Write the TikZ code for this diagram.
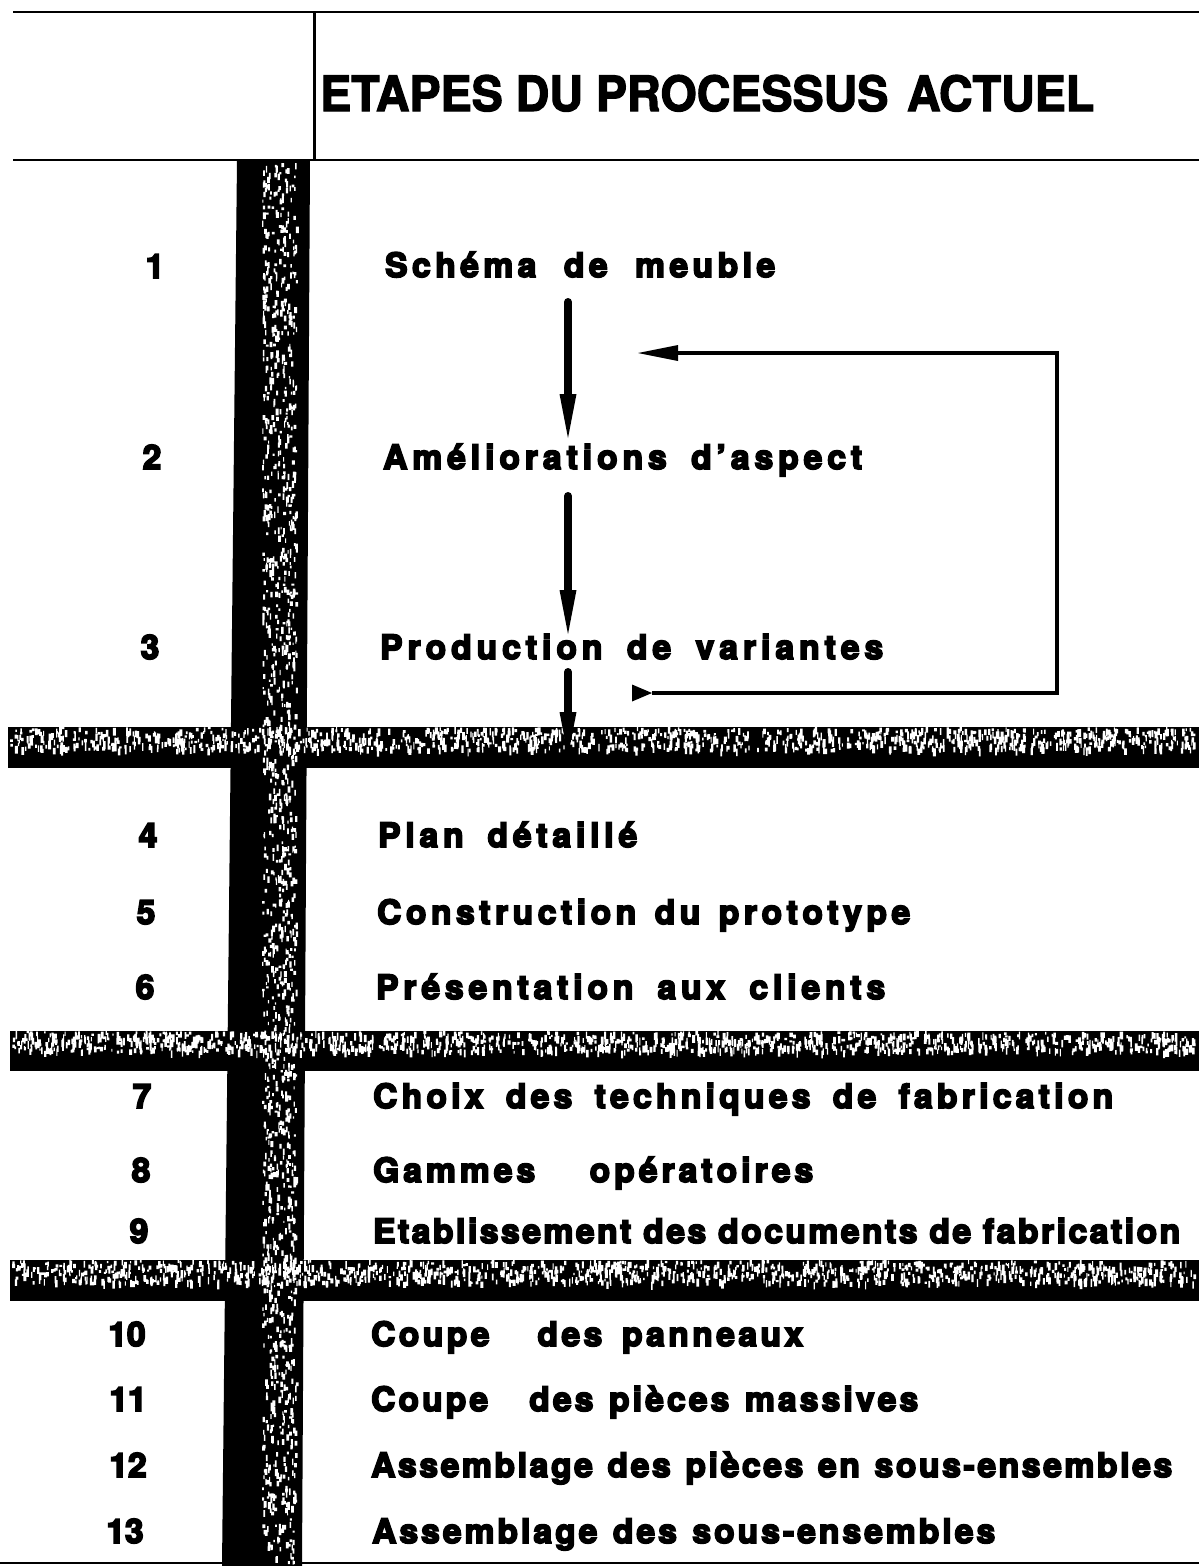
\documentclass[tikz,border=0pt]{standalone}
\usepackage{fontspec}
\setmainfont{TeX Gyre Heros}[BoldFeatures={FakeBold=5.2}]
\newfontfamily\titlefont{TeX Gyre Heros}[BoldFeatures={FakeBold=2.5}]
\usepackage{graphicx}
\usetikzlibrary{arrows.meta}

\ExplSyntaxOn
\seq_new:N \l_rs_words_seq
\seq_new:N \l_rs_chars_seq
\tl_new:N \l_rs_out_tl
\bool_new:N \l_rs_first_bool
\NewDocumentCommand \spreadtext { O{4} m m }
 {
  \seq_set_split:Nnn \l_rs_words_seq { ~ } { #3 }
  \tl_clear:N \l_rs_out_tl
  \bool_set_true:N \l_rs_first_bool
  \seq_map_inline:Nn \l_rs_words_seq
   {
    \str_if_eq:nnTF { ##1 } { / }
     { \tl_put_right:Nn \l_rs_out_tl { \hskip 0pt plus 8fil } }
     {
      \bool_if:NF \l_rs_first_bool
       { \tl_put_right:Nn \l_rs_out_tl { \hskip 0.28em plus #1 fil } }
      \bool_set_false:N \l_rs_first_bool
      \seq_clear:N \l_rs_chars_seq
      \tl_map_inline:nn { ##1 } { \seq_put_right:Nn \l_rs_chars_seq { ####1 } }
      \tl_put_right:Nx \l_rs_out_tl { \seq_use:Nn \l_rs_chars_seq { \hfil } }
     }
   }
  \makebox[#2][s]{ \l_rs_out_tl }
 }
\ExplSyntaxOff

\newcommand\itemsize{\fontsize{33.5pt}{33.5pt}\selectfont\bfseries}

\tikzset{
  rule/.style={line width=2.6pt, black},
  band/.style={fill=black},
  bar/.style={fill=black},
  speck/.style={fill=white},
  item/.style={anchor=base west, inner sep=0pt, font=\itemsize},
  num/.style={anchor=base, inner sep=0pt, font=\itemsize},
  flow/.style={line width=8pt, line cap=round, -{Triangle[length=44pt,width=17pt,line width=0pt]}},
  loopline/.style={line width=4.5pt, {Triangle[reversed,length=20pt,width=17pt,line width=0pt]}-{Triangle[length=40pt,width=16pt,line width=0pt]}},
}

\begin{document}
\begin{tikzpicture}[x=1pt,y=-1pt]
\useasboundingbox (0,0) rectangle (1199,1566);
\fill[white] (0,0) rectangle (1199,1566);

% header rules
\draw[rule] (13,12) -- (1199,12);
\draw[rule, line width=3pt] (314,12) -- (314,160);
\draw[rule] (13,160) -- (1199,160);
\draw[rule] (0,1563) -- (1199,1563);

% textured bands
\path[band] (8,727) rectangle (1199,768);
\path[band] (10,1031) rectangle (1199,1071);
\path[band] (10,1260) rectangle (1199,1301);

% textured vertical bar
\path[bar] (237,160) -- (310,160) -- (302,1566) -- (222,1566) -- cycle;

% speckle texture (scan grain)
\pgfmathsetseed{4711}
\fill[speck] \foreach \i in {1,...,1400} { ({262+34*rnd},{162+1400*rnd}) rectangle ++({1+2*rnd},{2+5*rnd}) };
\fill[speck] \foreach \i in {1,...,1300} { ({10+1185*rnd},{727+22*rnd}) rectangle ++({1+2*rnd},{2+6*rnd}) };
\fill[speck] \foreach \i in {1,...,1300} { ({12+1183*rnd},{1031+20*rnd}) rectangle ++({1+2*rnd},{2+6*rnd}) };
\fill[speck] \foreach \i in {1,...,1300} { ({12+1183*rnd},{1260+22*rnd}) rectangle ++({1+2*rnd},{2+6*rnd}) };

% title
\node[anchor=base west, inner sep=0pt] (title) at (320,111)
  {\resizebox{774pt}{36pt}{\titlefont\bfseries ETAPES DU PROCESSUS\hspace{0.12em} ACTUEL}};

% step numbers
\node[num] (n1)  at (155,278)  {1};
\node[num] (n2)  at (152,469)  {2};
\node[num] (n3)  at (150,659)  {3};
\node[num] (n4)  at (148,847)  {4};
\node[num] (n5)  at (146,924)  {5};
\node[num] (n6)  at (145,999)  {6};
\node[num] (n7)  at (142,1108) {7};
\node[num] (n8)  at (141,1182) {8};
\node[num] (n9)  at (139,1243) {9};
\node[num] (n10) at (127,1346) {10};
\node[num] (n11) at (128,1411) {11};
\node[num] (n12) at (128,1477) {12};
\node[num] (n13) at (125,1543) {13};

% step texts
\node[item] (t1)  at (385,277)  {\spreadtext[4]{390pt}{Schéma de meuble}};
\node[item] (t2)  at (383,469)  {\spreadtext[3]{479pt}{Améliorations d'aspect}};
\node[item] (t3)  at (380,659)  {\spreadtext[3]{503pt}{Production de variantes}};
\node[item] (t4)  at (378,847)  {\spreadtext[3]{259pt}{Plan détaillé}};
\node[item] (t5)  at (377,924)  {\spreadtext[2]{533pt}{Construction du prototype}};
\node[item] (t6)  at (376,999)  {\spreadtext[3]{509pt}{Présentation aux clients}};
\node[item] (t7)  at (373,1108) {\spreadtext[3]{740pt}{Choix des techniques de fabrication}};
\node[item] (t8)  at (373,1182) {\spreadtext[3]{440pt}{Gammes / opératoires}};
\node[item] (t9)  at (373,1243) {\spreadtext[1]{807pt}{Etablissement des documents de fabrication}};
\node[item] (t10) at (371,1346) {\spreadtext[3]{432pt}{Coupe / des panneaux}};
\node[item] (t11) at (371,1411) {\spreadtext[2]{547pt}{Coupe / des pièces massives}};
\node[item] (t12) at (371,1477) {\spreadtext[2]{801pt}{Assemblage des pièces en sous-ensembles}};
\node[item] (t13) at (372,1543) {\spreadtext[2]{623pt}{Assemblage des sous-ensembles}};

% connector end points
\coordinate (a1s) at (568,302);
\coordinate (a1e) at (568,438);
\coordinate (a2s) at (568,496);
\coordinate (a2e) at (568,634);
\coordinate (a3s) at (568,672);
\coordinate (a3e) at (568,756);
\coordinate (lpstart) at (632,693);
\coordinate (lpcornerb) at (1057,693);
\coordinate (lpcornert) at (1057,353);
\coordinate (lpend) at (638,353);

% flow arrows
\draw[flow] (a1s) -- (a1e);
\draw[flow] (a2s) -- (a2e);
\draw[flow] (a3s) -- (a3e);

% feedback loop
\draw[loopline] (lpstart) -- (lpcornerb) -- (lpcornert) -- (lpend);
\end{tikzpicture}
\end{document}
